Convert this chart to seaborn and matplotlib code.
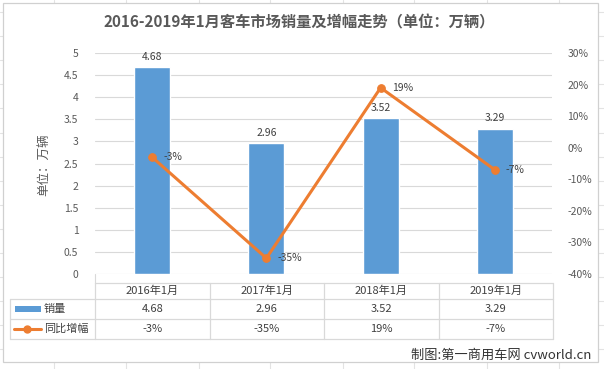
import numpy as np
import pandas as pd
import seaborn as sns
import matplotlib
matplotlib.use("Agg")
from matplotlib import pyplot as plt
from matplotlib.lines import Line2D
from matplotlib.patches import Rectangle

#%%

months = ["2016年1月", "2017年1月", "2018年1月", "2019年1月"]
sales = [4.68, 2.96, 3.52, 3.29]          # 万辆
growth = [-3, -35, 19, -7]                 # %
sales_labels = ["4.68", "2.96", "3.52", "3.29"]
growth_labels = ["-3%", "-35%", "19%", "-7%"]
left_ticks = [0, 0.5, 1, 1.5, 2, 2.5, 3, 3.5, 4, 4.5, 5]
right_ticks = [-40, -30, -20, -10, 0, 10, 20, 30]
title = "2016-2019年1月客车市场销量及增幅走势（单位：万辆）"

#%%

sns.set_style("white")
plt.rcParams['font.family'] = ['Noto Sans CJK SC', 'DejaVu Sans']

W, H = 604, 369
blue = "#5B9BD5"
orange = "#ED7D31"
tick_c = "#595959"
grid_c = "#D9D9D9"
txt_c = "#404040"


def fx(x):
    return x / W


def fy(y):
    return 1 - y / H


fig = plt.figure(figsize=(W / 100, H / 100), dpi=100)

# sheet grid behind the chart
for x in [54, 126, 199, 270, 343, 414, 487, 559]:
    fig.add_artist(Line2D([fx(x), fx(x)], [0, 1], color="#E3E3E3", lw=0.8, zorder=-3))
for y in np.arange(12, 369, 24.1):
    fig.add_artist(Line2D([0, 1], [fy(y), fy(y)], color="#E3E3E3", lw=0.8, zorder=-3))
fig.add_artist(Rectangle((fx(3), fy(362)), fx(595), (362 - 3) / H,
                         facecolor="white", edgecolor="#D0D0D0", lw=0.9, zorder=-2))

ax = fig.add_axes([fx(95), fy(274), fx(552 - 95), (274 - 53) / H])
ax.patch.set_alpha(0)

df = pd.DataFrame({"month": months, "sales": sales, "growth": growth})
sns.barplot(data=df, x="month", y="sales", color=blue, saturation=1,
            width=0.315, ax=ax, zorder=2)
ax.set_ylim(0, 5)
ax.set_xlim(-0.5, 3.5)
ax.set_yticks(left_ticks)
ax.set_yticklabels([f"{t:g}" for t in left_ticks])
ax.grid(axis="y", color=grid_c, lw=0.8, zorder=0)
ax.set_axisbelow(True)
for s in ax.spines.values():
    s.set_visible(False)
ax.tick_params(axis="y", length=0, pad=12, labelsize=7.5, labelcolor=tick_c)
ax.set_xticks([])
ax.set_xlabel("")
ax.set_ylabel("")
for i, v in enumerate(sales):
    ax.text(i, v + 0.12, sales_labels[i], ha="center", va="bottom",
            fontsize=7.5, color=txt_c)

ax2 = ax.twinx()
sns.lineplot(x=np.arange(len(months)), y=growth, ax=ax2, color=orange,
             lw=2.2, marker="o", markersize=5.5, markeredgecolor=orange, zorder=3)
ax2.set_ylim(-40, 30)
ax2.set_xlim(-0.5, 3.5)
ax2.set_yticks(right_ticks)
ax2.set_yticklabels([f"{t}%" for t in right_ticks])
for s in ax2.spines.values():
    s.set_visible(False)
ax2.tick_params(axis="y", length=0, pad=11, labelsize=7.5, labelcolor=tick_c)
for i, v in enumerate(growth):
    ax2.annotate(growth_labels[i], (i, v), xytext=(8, 0), textcoords="offset points",
                 ha="left", va="center", fontsize=7.5, color=txt_c)

# title and axis label
fig.text(fx(299), fy(22), title, ha="center", va="center", fontsize=11,
         fontweight="bold", color=tick_c)
fig.text(fx(44), fy(165), "单位：万辆", rotation=90, ha="center", va="center",
         fontsize=9, color=tick_c)

# data table
fig.add_artist(Line2D([fx(95), fx(95)], [fy(274), fy(283)], color=grid_c, lw=0.8))
cols = [95, 209.5, 324, 438.5, 553]
rows = [283, 299, 319, 339]
fig.add_artist(Line2D([fx(95), fx(553)], [fy(283), fy(283)], color=grid_c, lw=0.9))
for y in rows[1:]:
    fig.add_artist(Line2D([fx(10), fx(553)], [fy(y), fy(y)], color=grid_c, lw=0.9))
for x in cols:
    fig.add_artist(Line2D([fx(x), fx(x)], [fy(283), fy(339)], color=grid_c, lw=0.9))
fig.add_artist(Line2D([fx(10), fx(10)], [fy(299), fy(339)], color=grid_c, lw=0.9))

for i, m in enumerate(months):
    cx = (cols[i] + cols[i + 1]) / 2
    fig.text(fx(cx), fy(291), m, ha="center", va="center", fontsize=8, color=txt_c)
    fig.text(fx(cx), fy(309), sales_labels[i], ha="center", va="center", fontsize=8, color=txt_c)
    fig.text(fx(cx), fy(329), growth_labels[i], ha="center", va="center", fontsize=8, color=txt_c)

fig.add_artist(Rectangle((fx(15), fy(312)), fx(26), 6 / H, facecolor=blue, edgecolor="none"))
fig.text(fx(44), fy(309), "销量", ha="left", va="center", fontsize=8, color=txt_c)
fig.add_artist(Line2D([fx(14), fx(41)], [fy(329), fy(329)], color=orange, lw=2.2))
fig.add_artist(Line2D([fx(27.5)], [fy(329)], color=orange, marker="o", markersize=5, lw=0))
fig.text(fx(44), fy(329), "同比增幅", ha="left", va="center", fontsize=8, color=txt_c)

fig.text(fx(591), fy(355), "制图:第一商用车网 cvworld.cn", ha="right", va="center",
         fontsize=9.5, color="#333333")

fig.savefig("out.png", dpi=100)
